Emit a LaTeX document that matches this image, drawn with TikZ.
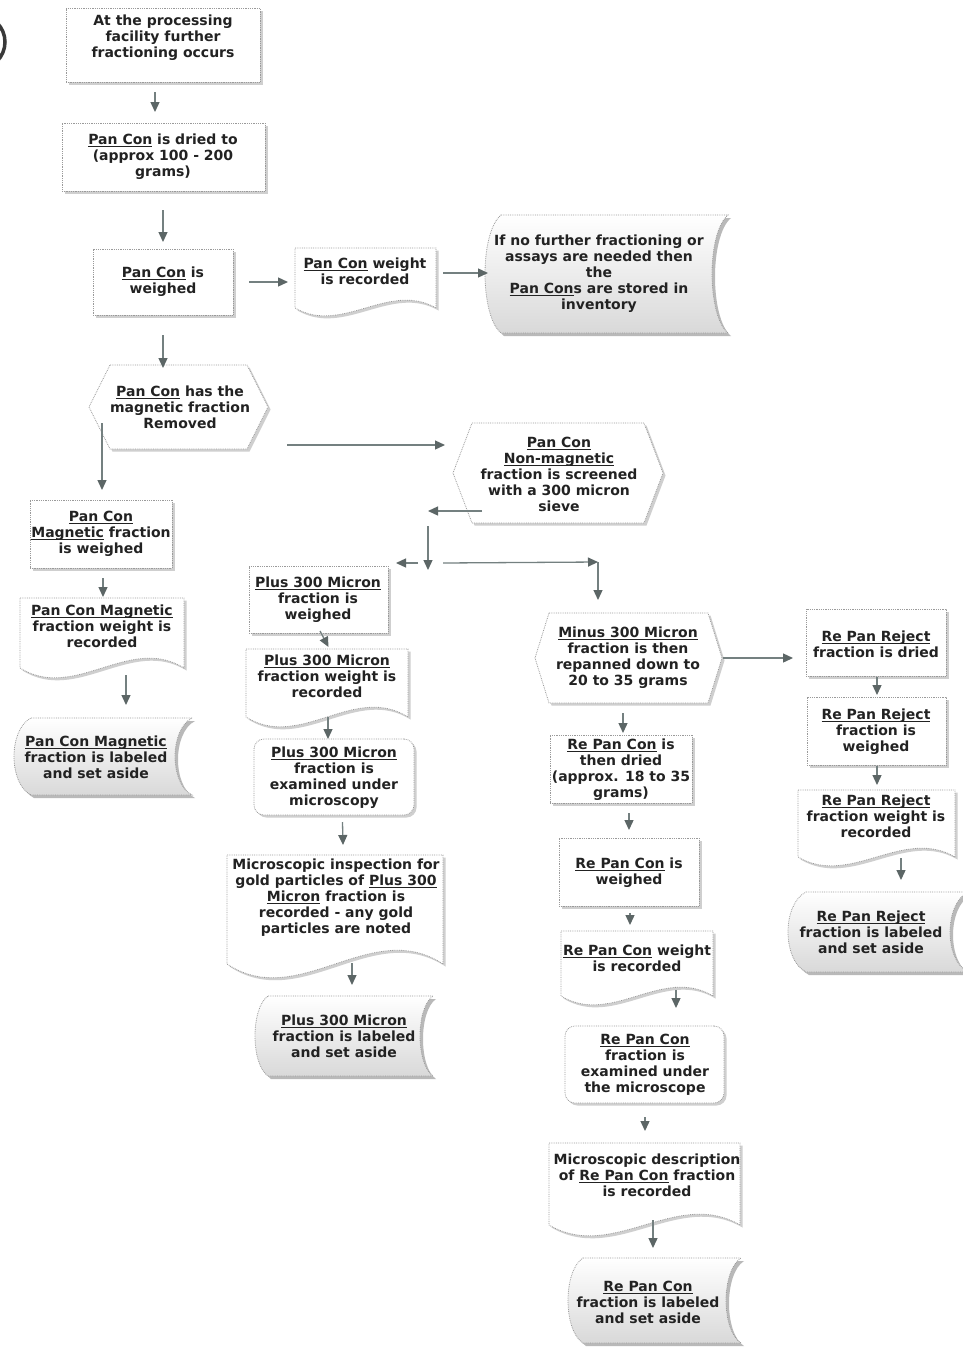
\documentclass[tikz,border=0pt]{standalone}
\usepackage{fontspec}
\setmainfont{DejaVu Sans}
\usetikzlibrary{arrows.meta,calc}
\definecolor{linec}{HTML}{9A9A9A}
\definecolor{arrc}{HTML}{748080}
\definecolor{arrh}{HTML}{5C6666}
\definecolor{txtc}{HTML}{222222}
\definecolor{shc}{HTML}{CFCFCF}
\newsavebox\ulbox
\newcommand\ulw[1]{\sbox\ulbox{#1}\rlap{\rule[-2.3pt]{\wd\ulbox}{0.9pt}}\usebox\ulbox}
\newcommand\txtfont{\bfseries\fontsize{14}{16}\selectfont}
\tikzset{
  outl/.style={draw=linec, densely dotted, line width=0.8pt, fill=white,
    preaction={fill=shc, transform canvas={xshift=2.5pt,yshift=-2.5pt}}},
  storefill/.style={draw=linec, densely dotted, line width=0.8pt, top color=white, bottom color=gray!30,
    preaction={fill=gray!55, transform canvas={xshift=3pt,yshift=-3pt}}},
  holder/.style={inner sep=0pt, outer sep=0pt},
  txt/.style={inner sep=0pt, align=center, font=\txtfont, text=txtc},
  arr/.style={draw=arrc, line width=1.3pt, -{Triangle[length=10pt,width=9pt,color=arrh]}},
}
% name x1 y1 x2 y2 tx ty text
\newcommand{\RectN}[8]{%
  \node[holder, outl, minimum width={(#4-#2)*1pt}, minimum height={(#5-#3)*1pt}] (#1) at ({(#2+#4)/2},{(#3+#5)/2}) {};
  \node[txt] (#1-t) at (#6,#7) {#8};}
\newcommand{\RoundN}[8]{%
  \node[holder, outl, rounded corners=10pt, minimum width={(#4-#2)*1pt}, minimum height={(#5-#3)*1pt}] (#1) at ({(#2+#4)/2},{(#3+#5)/2}) {};
  \node[txt] (#1-t) at (#6,#7) {#8};}
% name x1 y1 x2 y2 a tx ty text
\newcommand{\DocN}[9]{%
  \path[outl] (#2,#3) -- (#4,#3) -- (#4,{#5-#6}) .. controls ({#4-(#4-#2)/3},{#5-4.4*#6}) and ({#2+(#4-#2)/3},{#5+2.4*#6}) .. (#2,{#5-#6}) -- cycle;
  \node[holder, minimum width={(#4-#2)*1pt}, minimum height={(#5-#3)*1pt}] (#1) at ({(#2+#4)/2},{(#3+#5)/2}) {};
  \node[txt] (#1-t) at (#7,#8) {#9};}
% name x1 y1 x2 y2 inset tx ty text
\newcommand{\HexN}[9]{%
  \path[outl] ({#2+#6},#3) -- ({#4-#6},#3) -- (#4,{(#3+#5)/2}) -- ({#4-#6},#5) -- ({#2+#6},#5) -- (#2,{(#3+#5)/2}) -- cycle;
  \node[holder, minimum width={(#4-#2)*1pt}, minimum height={(#5-#3)*1pt}] (#1) at ({(#2+#4)/2},{(#3+#5)/2}) {};
  \node[txt] (#1-t) at (#7,#8) {#9};}
% name x1 y1 x2 y2 b tx ty text
\newcommand{\StoreN}[9]{%
  \path[storefill] ({#2+#6},#3) -- (#4,#3) .. controls ({#4-1.333*#6},{#3+0.15*(#5-#3)}) and ({#4-1.333*#6},{#5-0.15*(#5-#3)}) .. (#4,#5) -- ({#2+#6},#5) .. controls ({#2-0.333*#6},{#5-0.15*(#5-#3)}) and ({#2-0.333*#6},{#3+0.15*(#5-#3)}) .. ({#2+#6},#3) -- cycle;
  \node[holder, minimum width={(#4-#2)*1pt}, minimum height={(#5-#3)*1pt}] (#1) at ({(#2+#4)/2},{(#3+#5)/2}) {};
  \node[txt] (#1-t) at (#7,#8) {#9};}

\begin{document}
\begin{tikzpicture}[x=1pt,y=-1pt]
\useasboundingbox (0,0) rectangle (963,1352);
\fill[white] (0,0) rectangle (963,1352);
\draw[line width=3.5pt, gray!45!black] (-22,42) circle[radius=27];

% ---- nodes ----
\RectN{n1}{66}{8}{260}{82}{163}{38}{At the processing\\facility further\\fractioning occurs}
\RectN{n2}{62}{123}{265}{191}{163}{157}{\ulw{Pan Con} is dried to\\(approx 100 - 200\\grams)}
\RectN{n3}{93}{249}{233}{315}{163}{282}{\ulw{Pan Con} is\\weighed}
\DocN{n4}{295}{248}{436}{316}{8}{365}{271}{\ulw{Pan Con} weight\\is recorded}
\StoreN{n5}{485}{215}{728}{333}{16}{599}{274}{If no further fractioning or\\assays are needed then\\the\\\ulw{Pan Con}s are stored in\\inventory}
\HexN{n6}{89}{365}{268}{449}{21}{180}{407}{\ulw{Pan Con} has the\\magnetic fraction\\Removed}
\RectN{n7}{30}{500}{172}{568}{101}{534}{\ulw{Pan Con}\\\ulw{Magnetic} fraction\\is weighed}
\DocN{n8}{20}{598}{184}{678}{10}{102}{626}{\ulw{Pan Con Magnetic}\\fraction weight is\\recorded}
\StoreN{n9}{14}{718}{192}{795}{17}{96}{757}{\ulw{Pan Con Magnetic}\\fraction is labeled\\and set aside}
\HexN{n10}{453}{423}{663}{523}{19}{559}{474}{\ulw{Pan Con}\\\ulw{Non-magnetic}\\fraction is screened\\with a 300 micron\\sieve}
\RectN{n11}{249}{566}{388}{633}{318}{600}{\ulw{Plus 300 Micron}\\fraction is\\weighed}
\DocN{n12}{246}{649}{408}{727}{10}{327}{676}{\ulw{Plus 300 Micron}\\fraction weight is\\recorded}
\RoundN{n13}{254}{739}{414}{815}{334}{778}{\ulw{Plus 300 Micron}\\fraction is\\examined under\\microscopy}
\DocN{n14}{227}{855}{443}{978}{14}{336}{898}{Microscopic inspection for\\gold particles of \ulw{Plus 300}\\\ulw{Micron} fraction is\\recorded - any gold\\particles are noted}
\StoreN{n15}{255}{996}{433}{1076}{13}{344}{1036}{\ulw{Plus 300 Micron}\\fraction is labeled\\and set aside}
\HexN{n16}{535}{613}{722}{703}{14}{628}{658}{\ulw{Minus 300 Micron}\\fraction is then\\repanned down to\\20 to 35 grams}
\RectN{n17}{806}{609}{946}{676}{876}{644}{\ulw{Re Pan Reject}\\fraction is dried}
\RectN{n18}{807}{697}{946}{765}{876}{732}{\ulw{Re Pan Reject}\\fraction is\\weighed}
\DocN{n19}{798}{790}{955}{866}{9}{876}{816}{\ulw{Re Pan Reject}\\fraction weight is\\recorded}
\StoreN{n20}{788}{892}{968}{972}{18}{871}{932}{\ulw{Re Pan Reject}\\fraction is labeled\\and set aside}
\RectN{n21}{550}{735}{692}{803}{621}{770}{\ulw{Re Pan Con} is\\then dried\\(approx. 18 to 35\\grams)}
\RectN{n22}{559}{838}{699}{906}{629}{873}{\ulw{Re Pan Con} is\\weighed}
\DocN{n23}{561}{931}{713}{1005}{9}{637}{958}{\ulw{Re Pan Con} weight\\is recorded}
\RoundN{n24}{565}{1026}{724}{1103}{645}{1065}{\ulw{Re Pan Con}\\fraction is\\examined under\\the microscope}
\DocN{n25}{549}{1143}{740}{1236}{11}{647}{1175}{Microscopic description\\of \ulw{Re Pan Con} fraction\\is recorded}
\StoreN{n26}{568}{1258}{741}{1343}{15}{648}{1302}{\ulw{Re Pan Con}\\fraction is labeled\\and set aside}

\coordinate (j1) at (428,511);
\coordinate (j2) at (428,563);
\coordinate (j3) at (598,562);

% ---- connectors ----
\draw[arr] ([xshift=-8pt,yshift=-10pt]n1.south) -- ([xshift=-8.5pt,yshift=11pt]n2.north);
\draw[arr] ([xshift=-0.5pt,yshift=-19pt]n2.south) -- ([yshift=7pt]n3.north);
\draw[arr] ([xshift=16pt]n3.east) -- ([xshift=-7pt]n4.west);
\draw[arr] ([xshift=7pt,yshift=9pt]n4.east) -- ([xshift=3pt,yshift=1pt]n5.west);
\draw[arr] ([xshift=0pt,yshift=-20pt]n3.south) -- ([xshift=-15.5pt,yshift=-3pt]n6.north);
\draw[arr] ([xshift=-76.5pt,yshift=-16pt]n6.center) -- ([xshift=1pt,yshift=10pt]n7.north);
\draw[arr] ([xshift=19pt,yshift=-38pt]n6.east) -- ([xshift=-8pt,yshift=28pt]n10.west);
\draw[arr] ([xshift=-76pt,yshift=-38pt]n10.center) -- (j1);
\draw[arr] ([yshift=-15pt]j1) -- ([yshift=-7pt]j2);
\draw[arr] ([xshift=-10pt]j2) -- ([xshift=-32pt]j2);
\draw[arr] ([xshift=15pt]j2) -- (j3);
\draw[arr] (j3) -- ([xshift=-30.5pt,yshift=13pt]n16.north);
\draw[arr] ([xshift=1.5pt,yshift=2pt]n11.south) -- ([xshift=1.5pt,yshift=2pt]n12.north);
\draw[arr] ([xshift=1pt,yshift=10pt]n12.south) -- ([xshift=-6pt]n13.north);
\draw[arr] ([xshift=2pt,yshift=-10pt]n7.south) -- ([xshift=1pt,yshift=1pt]n8.north);
\draw[arr] ([xshift=24pt,yshift=3pt]n8.south) -- ([xshift=23pt,yshift=13pt]n9.north);
\draw[arr] ([xshift=8.5pt,yshift=-7pt]n13.south) -- ([xshift=8pt,yshift=10pt]n14.north);
\draw[arr] ([xshift=17pt,yshift=15pt]n14.south) -- ([xshift=8pt,yshift=11pt]n15.north);
\draw[arr] ([xshift=1pt]n16.east) -- ([xshift=-13pt,yshift=-15.5pt]n17.west);
\draw[arr] ([xshift=1pt,yshift=-1pt]n17.south) -- ([xshift=0.5pt,yshift=2pt]n18.north);
\draw[arr] ([xshift=0.5pt,yshift=-1pt]n18.south) -- ([xshift=0.5pt,yshift=5pt]n19.north);
\draw[arr] ([xshift=24.5pt,yshift=8pt]n19.south) -- ([xshift=23pt,yshift=12pt]n20.north);
\draw[arr] ([xshift=-5.5pt,yshift=-10pt]n16.south) -- ([xshift=2pt,yshift=2pt]n21.north);
\draw[arr] ([xshift=8pt,yshift=-10pt]n21.south) -- ([yshift=8pt]n22.north);
\draw[arr] ([xshift=1pt,yshift=-7pt]n22.south) -- ([xshift=-7pt,yshift=6pt]n23.north);
\draw[arr] ([xshift=39pt,yshift=15pt]n23.south) -- ([xshift=31.5pt,yshift=18pt]n24.north);
\draw[arr] ([xshift=0.5pt,yshift=-14pt]n24.south) -- ([xshift=0.5pt,yshift=12pt]n25.north);
\draw[arr] ([xshift=8.5pt,yshift=16pt]n25.south) -- ([xshift=-1.5pt,yshift=10pt]n26.north);
\end{tikzpicture}
\end{document}
